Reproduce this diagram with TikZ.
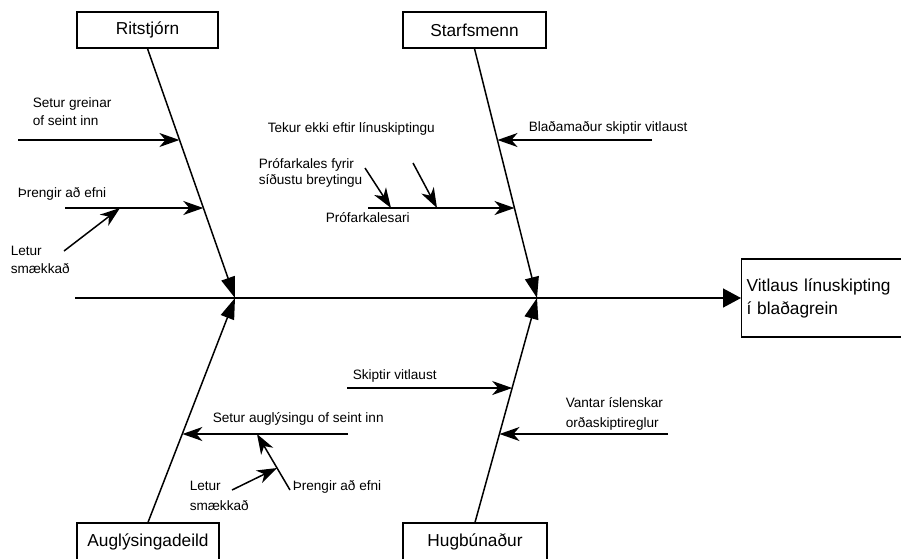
\documentclass[tikz,border=0pt]{standalone}
\usepackage{fontspec}
\setmainfont{Liberation Sans}
\usetikzlibrary{arrows.meta}
\begin{document}
\begin{tikzpicture}[x=1pt,y=-1pt,line width=1.5pt,
  box/.style={draw,line width=1.3pt,minimum height=36pt,inner sep=0pt,font=\fontsize{17.3}{20}\selectfont},
  lbl/.style={anchor=base west,inner sep=0pt,font=\fontsize{13.6}{16}\selectfont},
  bone/.style={-{Triangle[length=21pt,width=14pt]}},
  spine/.style={-{Triangle[length=18pt,width=19pt]}},
  sub/.style={-{Stealth[length=20pt,width=14pt,inset=6pt]}}]
\useasboundingbox (0,0) rectangle (901,558);

% category boxes
\node[box,minimum width=141pt] (rit) at (147.5,30) {Ritstjórn};
\node[box,minimum width=143pt] (sta) at (474.5,30) {Starfsmenn};
\node[box,minimum width=142pt,minimum height=38pt] (aug) at (148,542) {Auglýsingadeild};
\node[box,minimum width=144pt,minimum height=38pt] (hug) at (475,542) {Hugbúnaður};

% effect box
\node[draw,line width=1.3pt,anchor=west,minimum height=78pt,text width=165pt,inner xsep=5pt,
      align=left,font=\fontsize{17.3}{23}\selectfont] (eff) at (741,298)
      {Vitlaus línuskipting\\í blaðagrein};

% spine
\coordinate (tail) at (75,298);
\coordinate (ltip) at (235,298);
\coordinate (rtip) at (537,298);
\draw[spine] (tail) -- (eff.west);

% bones
\draw[bone] (rit.south) -- (ltip);
\draw[bone] (sta.south) -- (rtip);
\draw[bone] (aug.north) -- (ltip);
\draw[bone] (hug.north) -- (rtip);

% --- Ritstjórn
\coordinate (a1s) at (18,140);  \coordinate (a1e) at (179.4,140);
\coordinate (a2s) at (65,208);  \coordinate (a2e) at (203.3,208);
\coordinate (a3s) at (64,251);  \coordinate (a3e) at (120,208);
\draw[sub] (a1s) -- (a1e);
\draw[sub] (a2s) -- (a2e);
\draw[sub] (a3s) -- (a3e);
\node[lbl] (t1a) at (32,107.5) {Setur greinar};
\node[lbl] (t1b) at (32,125.5) {of seint inn};
\node[lbl] (t2) at (17,197) {Þrengir að efni};
\node[lbl] (t3a) at (10,255) {Letur};
\node[lbl] (t3b) at (10,273) {smækkað};

% --- Starfsmenn
\coordinate (b1s) at (652,140);  \coordinate (b1e) at (497.5,140);
\coordinate (b2s) at (368,208);  \coordinate (b2e) at (514.5,208);
\coordinate (b3s) at (413,163);  \coordinate (b3e) at (437,208);
\coordinate (b4s) at (365,168);  \coordinate (b4e) at (391,208);
\draw[sub] (b1s) -- (b1e);
\draw[sub] (b2s) -- (b2e);
\draw[sub] (b3s) -- (b3e);
\draw[sub] (b4s) -- (b4e);
\node[lbl] (u1) at (528,131) {Blaðamaður skiptir vitlaust};
\node[lbl] (u2) at (325,222) {Prófarkalesari};
\node[lbl] (u3) at (267,132) {Tekur ekki eftir línuskiptingu};
\node[lbl] (u4a) at (258,168) {Prófarkales fyrir};
\node[lbl] (u4b) at (258,184) {síðustu breytingu};

% --- Hugbúnaður
\coordinate (c1s) at (347,388);  \coordinate (c1e) at (512.2,388);
\coordinate (c2s) at (668,434);  \coordinate (c2e) at (499.5,434);
\draw[sub] (c1s) -- (c1e);
\draw[sub] (c2s) -- (c2e);
\node[lbl] (v1) at (352,379) {Skiptir vitlaust};
\node[lbl] (v2a) at (565,407) {Vantar íslenskar};
\node[lbl] (v2b) at (565,427) {orðaskiptireglur};

% --- Auglýsingadeild
\coordinate (d1s) at (348,434);  \coordinate (d1e) at (182.4,434);
\coordinate (d2s) at (290,490);  \coordinate (d2e) at (257,434);
\coordinate (d3s) at (232,490);  \coordinate (d3e) at (277,468);
\draw[sub] (d1s) -- (d1e);
\draw[sub] (d2s) -- (d2e);
\draw[sub] (d3s) -- (d3e);
\node[lbl] (w1) at (212,422) {Setur auglýsingu of seint inn};
\node[lbl] (w2) at (292,490) {Þrengir að efni};
\node[lbl] (w3a) at (189,490) {Letur};
\node[lbl] (w3b) at (189,510) {smækkað};
\end{tikzpicture}
\end{document}
